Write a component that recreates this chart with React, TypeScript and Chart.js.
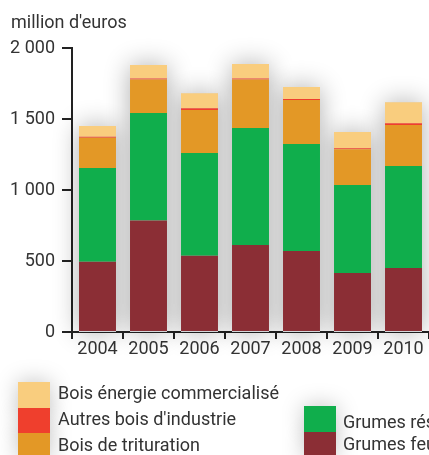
import React, { useEffect, useRef } from "react";
import { Chart, registerables } from "chart.js";

Chart.register(...registerables);

const years = ["2004", "2005", "2006", "2007", "2008", "2009", "2010"];
const grumesFeuillus = [495, 785, 537, 613, 570, 415, 451];
const grumesResineux = [660, 757, 724, 824, 754, 620, 718];
const boisTrituration = [213, 237, 302, 342, 310, 252, 289];
const autresBoisIndustrie = [7, 7, 12, 7, 7, 7, 12];
const boisEnergie = [76, 94, 106, 101, 84, 114, 148];

const unitLabel = "million d'euros";
const yTicks = [0, 500, 1000, 1500, 2000];

const COLORS = {
  energie: "#f9cd7e",
  autres: "#ef3f2d",
  trituration: "#e39826",
  resineux: "#10ae4c",
  feuillus: "#8b2e35",
};

const FONT = "Roboto";
const TEXT = "#333333";

const fmt = (v: number) => String(v).replace(/\B(?=(\d{3})+(?!\d))/g, " ");

const shadowPlugin = {
  id: "barShadow",
  beforeDatasetsDraw(chart: any) {
    const ctx = chart.ctx;
    const n = chart.data.datasets.length;
    const topMeta = chart.getDatasetMeta(n - 1);
    const yScale = chart.scales.y;
    const base = yScale.getPixelForValue(0);
    ctx.save();
    ctx.shadowColor = "rgba(0,0,0,0.32)";
    ctx.shadowBlur = 26;
    ctx.fillStyle = "#d6d7da";
    topMeta.data.forEach((el: any) => {
      const w = el.width;
      ctx.fillRect(el.x - w / 2, el.y, w, base - el.y);
    });
    ctx.restore();
  },
};

const overlayPlugin = {
  id: "overlay",
  afterDraw(chart: any) {
    const ctx = chart.ctx;
    ctx.save();
    ctx.fillStyle = TEXT;
    ctx.font = `18px ${FONT}`;
    ctx.textBaseline = "alphabetic";
    ctx.textAlign = "left";
    ctx.fillText(unitLabel, 11, 28);

    const ds = chart.data.datasets;
    const byLabel = (l: string) => ds.find((d: any) => d.label === l);
    const items = [
      { d: byLabel("Bois énergie commercialisé"), x: 18, y: 382, h: 26, tx: 58, ty: 399 },
      { d: byLabel("Autres bois d'industrie"), x: 18, y: 408, h: 25, tx: 58, ty: 425 },
      { d: byLabel("Bois de trituration"), x: 18, y: 433, h: 26, tx: 58, ty: 451 },
      { d: byLabel("Grumes résineux"), x: 304, y: 406, h: 26, tx: 343, ty: 428 },
      { d: byLabel("Grumes feuillus"), x: 304, y: 432, h: 26, tx: 343, ty: 450 },
    ];
    ctx.save();
    ctx.shadowColor = "rgba(0,0,0,0.25)";
    ctx.shadowBlur = 22;
    ctx.fillStyle = "#e2e3e5";
    items.forEach((it) => ctx.fillRect(it.x, it.y, 32, it.h));
    ctx.restore();
    items.forEach((it) => {
      ctx.fillStyle = it.d.backgroundColor;
      ctx.fillRect(it.x, it.y, 32, it.h);
      ctx.fillStyle = TEXT;
      ctx.font = `18px ${FONT}`;
      ctx.fillText(it.d.label, it.tx, it.ty);
    });
    ctx.restore();
  },
};

export default function App() {
  const ref = useRef<HTMLCanvasElement>(null);
  useEffect(() => {
    document.body.style.margin = "0";
    const canvas = ref.current!;
    const chart = new Chart(canvas, {
      type: "bar",
      data: {
        labels: years,
        datasets: [
          { label: "Grumes feuillus", data: grumesFeuillus, backgroundColor: COLORS.feuillus },
          { label: "Grumes résineux", data: grumesResineux, backgroundColor: COLORS.resineux },
          { label: "Bois de trituration", data: boisTrituration, backgroundColor: COLORS.trituration },
          { label: "Autres bois d'industrie", data: autresBoisIndustrie, backgroundColor: COLORS.autres },
          { label: "Bois énergie commercialisé", data: boisEnergie, backgroundColor: COLORS.energie },
        ],
      },
      options: {
        responsive: false,
        animation: false,
        devicePixelRatio: 1,
        layout: { padding: { top: 48, left: 0, right: 0, bottom: 0 } },
        datasets: {
          bar: { barPercentage: 0.725, categoryPercentage: 1, borderWidth: 0 },
        },
        plugins: {
          legend: { display: false },
          title: { display: false },
          tooltip: { enabled: false },
        },
        scales: {
          x: {
            stacked: true,
            afterFit: (s: any) => {
              s.height = 123;
            },
            grid: {
              offset: true,
              drawOnChartArea: false,
              drawTicks: true,
              tickLength: 7,
              color: "#222",
              lineWidth: 2,
            },
            border: { display: true, color: "#222", width: 2 },
            ticks: {
              color: TEXT,
              font: { family: FONT, size: 18 },
              padding: 0,
              maxRotation: 0,
            },
          },
          y: {
            stacked: true,
            min: 0,
            max: 2000,
            afterFit: (s: any) => {
              s.width = 72;
            },
            afterBuildTicks: (s: any) => {
              s.ticks = yTicks.map((v) => ({ value: v }));
            },
            grid: {
              drawOnChartArea: false,
              drawTicks: true,
              tickLength: 10,
              color: "#222",
              lineWidth: 2,
            },
            border: { display: true, color: "#222", width: 2 },
            ticks: {
              color: TEXT,
              font: { family: FONT, size: 18 },
              padding: 7,
              callback: (v: any) => fmt(Number(v)),
            },
          },
        },
      },
      plugins: [shadowPlugin, overlayPlugin],
    });
    return () => chart.destroy();
  }, []);
  return <canvas ref={ref} width={429} height={455} style={{ display: "block" }} />;
}
